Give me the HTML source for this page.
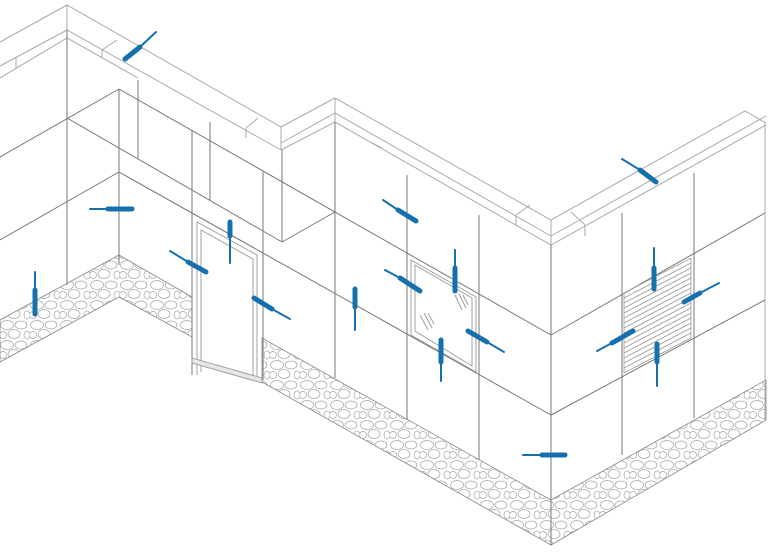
<!DOCTYPE html>
<html><head><meta charset="utf-8"><style>html,body{margin:0;padding:0;background:#fff;}svg{display:block}</style></head>
<body>
<svg width="768" height="552" viewBox="0 0 768 552" xmlns="http://www.w3.org/2000/svg">
<defs>
<pattern id="st" width="30" height="20" patternUnits="userSpaceOnUse">
<rect width="30" height="20" fill="#fff"/>
<g fill="none" stroke="#a5a5a5" stroke-width="0.7">
<ellipse cx="7" cy="5" rx="6.5" ry="4.5"/><ellipse cx="21" cy="5" rx="6" ry="4"/>
<ellipse cx="14" cy="14" rx="6" ry="4.5"/><ellipse cx="27" cy="15" rx="3" ry="4"/><ellipse cx="3" cy="15" rx="3.5" ry="3.5"/>
</g></pattern>
</defs>
<!-- stones -->
<g stroke="#888" stroke-width="0.8" fill="url(#st)">
<polygon points="0,320 119,255 192,297 192,337 119,297 0,362"/>
<polygon points="262,338 551,500 551,545 262,382"/>
<polygon points="551,500 766,380 766,420 551,545"/>
</g>
<g fill="none" stroke="#aaa" stroke-width="1">
<polyline points="0,42 67,5 281,127 335,98 551,220 745,111 766,123"/>
<polyline points="0,66 67,30 281,150"/>
<polyline points="0,78 67,38 138,78"/>
<line x1="67" y1="5" x2="67" y2="38"/>
<line x1="16" y1="57" x2="16" y2="68"/>
<line x1="102" y1="50" x2="117" y2="40"/><line x1="102" y1="50" x2="102" y2="58"/>
<line x1="246" y1="128" x2="258" y2="118"/><line x1="246" y1="128" x2="246" y2="138"/>
<line x1="281" y1="127" x2="281" y2="150"/>
<polyline points="281,150 335,122 551,245 766,125"/>
<polyline points="281,143 335,113 551,236"/>
<line x1="335" y1="98" x2="335" y2="122"/>
<line x1="370" y1="142" x2="382" y2="148"/>
<line x1="516" y1="215" x2="530" y2="205"/><line x1="516" y1="215" x2="516" y2="226"/>
<line x1="551" y1="220" x2="551" y2="245"/>
<polyline points="551,236 766,116"/>
<line x1="571" y1="212" x2="585" y2="225"/><line x1="585" y1="225" x2="585" y2="236"/>
<line x1="765" y1="123" x2="765" y2="420"/>
</g>
<g fill="none" stroke="#777" stroke-width="1">
<line x1="67" y1="30" x2="67" y2="285"/>
<line x1="119" y1="89" x2="119" y2="265"/>
<line x1="0" y1="157" x2="119" y2="89"/>
<line x1="0" y1="240" x2="119" y2="172"/>
<line x1="67" y1="118" x2="282" y2="242"/>
<line x1="119" y1="89" x2="551" y2="335"/>
<line x1="119" y1="172" x2="551" y2="415"/>
<line x1="138" y1="80" x2="138" y2="158"/>
<line x1="192" y1="130" x2="192" y2="375"/>
<line x1="210" y1="122" x2="210" y2="200"/>
<line x1="263" y1="172" x2="263" y2="380"/>
<line x1="282" y1="150" x2="282" y2="242"/>
<line x1="282" y1="242" x2="335" y2="212"/>
<line x1="335" y1="122" x2="335" y2="378"/>
<line x1="407" y1="175" x2="407" y2="420"/>
<line x1="479" y1="215" x2="479" y2="460"/>
<line x1="551" y1="245" x2="551" y2="545"/>
<line x1="551" y1="335" x2="765" y2="213"/>
<line x1="551" y1="415" x2="765" y2="300"/>
<line x1="622" y1="213" x2="622" y2="455"/>
<line x1="694" y1="173" x2="694" y2="418"/>
</g>
<g fill="none" stroke="#999" stroke-width="0.9">
<polyline points="197,375 197,222 257,255 257,380"/>
<polyline points="201,372 201,230 253,259 253,378"/>
<polygon points="192,358 262,378 262,383 192,363" fill="#e6e6e6"/>
</g>
<g fill="none" stroke="#999" stroke-width="0.9">
<polygon points="411,260 476,297 476,372 411,335"/>
<polygon points="415,265 472,298 472,366 415,331"/>
<line x1="420" y1="315" x2="428" y2="330"/><line x1="424" y1="313" x2="432" y2="328"/><line x1="428" y1="313" x2="434" y2="324"/>
<line x1="455" y1="295" x2="462" y2="310"/><line x1="459" y1="294" x2="466" y2="308"/><line x1="463" y1="295" x2="468" y2="305"/>
</g>
<g fill="none" stroke="#999" stroke-width="0.8">
<polygon points="624,293 691,258 691,338 624,373"/>
<path d="M624,298 L691,263 M624,303 L691,268 M624,308 L691,273 M624,313 L691,278 M624,318 L691,283 M624,323 L691,288 M624,328 L691,293 M624,333 L691,298 M624,338 L691,303 M624,343 L691,308 M624,348 L691,313 M624,353 L691,318 M624,358 L691,323 M624,363 L691,328 M624,368 L691,333"/>
</g>
<g stroke="#1670ad" stroke-linecap="round" fill="none">
<g stroke-width="2">
<line x1="140" y1="47" x2="156" y2="32"/>
<line x1="90" y1="209" x2="108" y2="209"/>
<line x1="170" y1="251" x2="188" y2="262"/>
<line x1="230" y1="235" x2="230" y2="263"/>
<line x1="272" y1="309" x2="290" y2="319"/>
<line x1="35" y1="272" x2="35" y2="290"/>
<line x1="355" y1="307" x2="355" y2="330"/>
<line x1="383" y1="200" x2="398" y2="210"/>
<line x1="455" y1="250" x2="455" y2="268"/>
<line x1="385" y1="270" x2="400" y2="278"/>
<line x1="441" y1="362" x2="441" y2="381"/>
<line x1="487" y1="342" x2="504" y2="352"/>
<line x1="622" y1="159" x2="640" y2="170"/>
<line x1="654" y1="248" x2="654" y2="268"/>
<line x1="700" y1="293" x2="719" y2="283"/>
<line x1="597" y1="351" x2="612" y2="343"/>
<line x1="657" y1="362" x2="657" y2="386"/>
<line x1="523" y1="455" x2="542" y2="455"/>
</g>
<g stroke-width="5">
<line x1="125" y1="59" x2="140" y2="47"/>
<line x1="108" y1="209" x2="132" y2="209"/>
<line x1="188" y1="262" x2="206" y2="272"/>
<line x1="230" y1="222" x2="230" y2="236"/>
<line x1="254" y1="298" x2="272" y2="309"/>
<line x1="35" y1="290" x2="35" y2="314"/>
<line x1="355" y1="289" x2="355" y2="307"/>
<line x1="398" y1="210" x2="416" y2="221"/>
<line x1="455" y1="268" x2="455" y2="291"/>
<line x1="400" y1="278" x2="420" y2="291"/>
<line x1="441" y1="340" x2="441" y2="362"/>
<line x1="468" y1="331" x2="487" y2="342"/>
<line x1="640" y1="170" x2="656" y2="182"/>
<line x1="654" y1="268" x2="654" y2="289"/>
<line x1="684" y1="302" x2="700" y2="293"/>
<line x1="612" y1="343" x2="633" y2="331"/>
<line x1="657" y1="344" x2="657" y2="362"/>
<line x1="542" y1="455" x2="565" y2="455"/>
</g>
</g>
</svg>
</body></html>
